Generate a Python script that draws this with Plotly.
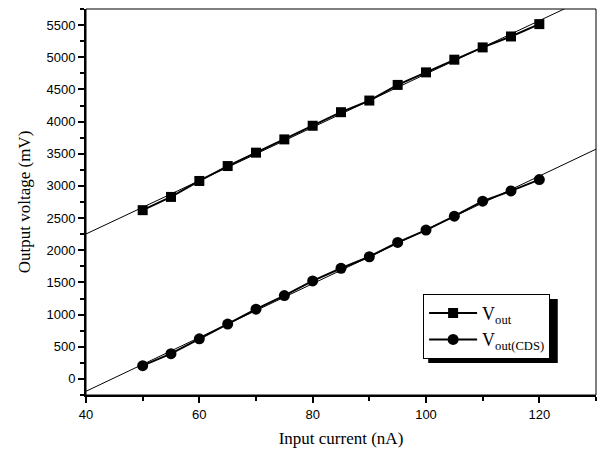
import numpy as np
import plotly.graph_objects as go

current = [50, 55, 60, 65, 70, 75, 80, 85, 90, 95, 100, 105, 110, 115, 120]
vout = [2623, 2829, 3077, 3309, 3517, 3723, 3935, 4146, 4327, 4570, 4765, 4962, 5153, 5323, 5515]
vout_cds = [206, 392, 624, 852, 1084, 1295, 1523, 1720, 1899, 2122, 2313, 2530, 2762, 2922, 3098]
fit_x = [40, 130]

serif = "Liberation Serif, Times New Roman, serif"
tickfont = dict(family="Liberation Sans Narrow, Arial Narrow, Liberation Sans, sans-serif", size=13, color="black")

fig = go.Figure()

for ys in (vout, vout_cds):
    k, b = np.polyfit(current, ys, 1)
    fig.add_trace(go.Scatter(x=fit_x, y=[k * fit_x[0] + b, k * fit_x[1] + b], mode="lines",
                             line=dict(color="black", width=1), showlegend=False, hoverinfo="skip"))

fig.add_trace(go.Scatter(x=current, y=vout, mode="lines+markers", name="V<sub>out</sub>",
                         line=dict(color="black", width=2),
                         marker=dict(symbol="square", size=10, color="black")))
fig.add_trace(go.Scatter(x=current, y=vout_cds, mode="lines+markers", name="V<sub>out(CDS)</sub>",
                         line=dict(color="black", width=2),
                         marker=dict(symbol="circle", size=11, color="black")))

fig.update_layout(
    width=597, height=451,
    margin=dict(l=86, r=1, t=9, b=56),
    paper_bgcolor="white", plot_bgcolor="white",
    showlegend=True,
    legend=dict(x=0.661, y=0.262, xanchor="left", yanchor="top",
                bgcolor="white", bordercolor="black", borderwidth=1,
                font=dict(family=serif, size=18, color="black"),
                itemwidth=48, tracegroupgap=2),
    xaxis=dict(range=[40, 130], tickvals=[40, 60, 80, 100, 120],
               ticks="outside", ticklen=6, tickwidth=1.5, tickcolor="black",
               showline=True, linecolor="black", linewidth=2, showgrid=False, zeroline=False,
               minor=dict(tickvals=[50, 70, 90, 110, 130], ticks="outside", ticklen=4, tickwidth=1.5, tickcolor="black"),
               tickfont=tickfont,
               title=dict(text="Input current (nA)", font=dict(family=serif, size=17, color="black"), standoff=12)),
    yaxis=dict(range=[-250, 5750], tickvals=list(range(0, 5501, 500)),
               ticks="outside", ticklen=6, tickwidth=1.5, tickcolor="black",
               showline=True, linecolor="black", linewidth=2, showgrid=False, zeroline=False,
               minor=dict(tickvals=list(range(-250, 5751, 500)), ticks="outside", ticklen=4, tickwidth=1.5, tickcolor="black"),
               tickfont=tickfont,
               title=dict(text="Output voltage (mV)", font=dict(family=serif, size=17, color="black"), standoff=12)),
    shapes=[
        dict(type="rect", xref="paper", yref="paper", x0=0, x1=1, y0=0, y1=1,
             line=dict(color="black", width=1), layer="above"),
        dict(type="rect", xref="paper", yref="paper", x0=0.671, x1=0.925, y0=0.083, y1=0.249,
             fillcolor="black", line=dict(width=0), layer="above"),
    ],
)

fig.write_html("out.html")
